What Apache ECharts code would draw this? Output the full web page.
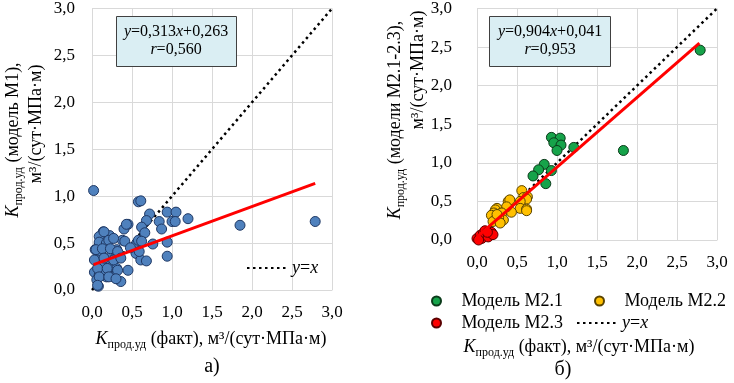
<!DOCTYPE html>
<html><head><meta charset="utf-8">
<script src="https://cdn.jsdelivr.net/npm/echarts@6/dist/echarts.min.js"></script>
<style>html,body{margin:0;padding:0;background:#fff}#c{width:734px;height:383px}</style>
</head><body><div id="c"></div>
<script>
// ---------- data ----------
const tickValues = [0, 0.5, 1.0, 1.5, 2.0, 2.5, 3.0];

// (a) model M1: fact vs model
const m1X = [0.02,0.58,0.61,0.72,0.94,1.05,1.00,1.04,1.20,1.85,2.79,0.84,0.87,0.68,0.62,0.66,0.45,0.40,0.38,0.56,0.58,0.62,0.76,0.94,0.55,0.61,0.68,0.94,0.45,0.36,
  0.14,0.09,0.22,0.04,0.09,0.18,0.31,0.11,0.25,0.06,0.16,0.29,0.03,0.12,0.25,0.31,0.09,0.18,0.27,0.06,0.08,0.14,
  0.43,0.41,0.15,0.21,0.27,0.05,0.13,0.23,0.32,0.03,0.15,0.27,0.36,0.07,0.19,0.32,0.09,0.21,0.30,0.07,0.59,0.48];
const m1Y = [1.06,0.94,0.95,0.81,0.83,0.83,0.73,0.73,0.76,0.69,0.73,0.73,0.65,0.74,0.67,0.61,0.70,0.65,0.53,0.50,0.53,0.52,0.49,0.51,0.39,0.32,0.31,0.36,0.21,0.09,
  0.62,0.57,0.58,0.43,0.51,0.50,0.43,0.39,0.39,0.32,0.30,0.34,0.19,0.25,0.25,0.23,0.16,0.14,0.14,0.11,0.04,0.18,
  0.70,0.52,0.62,0.53,0.55,0.43,0.44,0.44,0.41,0.32,0.34,0.32,0.34,0.23,0.23,0.21,0.14,0.14,0.12,0.05,0.41,0.45];

// (b) models M2.1 - M2.3
const m21X = [2.79,1.83,1.21,0.93,1.04,0.96,1.05,1.00,0.84,0.77,0.70,0.93,0.86];
const m21Y = [2.46,1.16,1.20,1.33,1.32,1.26,1.23,1.16,0.98,0.91,0.83,0.90,0.73];
const m22X = [0.56,0.58,0.63,0.62,0.54,0.39,0.41,0.54,0.62,0.43,0.37,0.25,0.23,0.21,0.18,0.29,0.31,0.33,0.27,0.23,0.20,0.29,0.62,0.25];
const m22Y = [0.64,0.55,0.56,0.53,0.50,0.50,0.52,0.41,0.40,0.36,0.43,0.41,0.39,0.35,0.32,0.34,0.35,0.26,0.29,0.26,0.24,0.22,0.38,0.33];
const m23X = [0.00,0.04,0.08,0.12,0.16,0.18,0.10,0.06,0.02,0.14,0.20,0.13];
const m23Y = [0.02,0.06,0.09,0.07,0.06,0.10,0.12,0.02,0.00,0.04,0.07,0.10];

// regression lines (endpoints) and the y=x line
const fitAX = [0.02, 2.79], fitAY = [0.27, 1.136];
const fitBX = [0.00, 2.78], fitBY = [0.04, 2.55];
const identX = [0, 3], identY = [0, 3];

const fitAText = ['{i|y}=0,313{i|x}+0,263', '{i|r}=0,560'];
const fitBText = ['{i|y}=0,904{i|x}+0,041', '{i|r}=0,953'];

// ---------- helpers ----------
const zip = (xs, ys) => xs.map((x, i) => [x, ys[i]]);
const serif = "'Liberation Serif','Times New Roman',serif";
const fmt = v => v.toFixed(1).replace('.', ',');

function xAx(grid) {
  return {gridIndex: grid, type: 'value', min: 0, max: 3, interval: 0.5,
    axisLine: {show: true, lineStyle: {color: '#D9D9D9'}}, axisTick: {show: false},
    splitLine: {show: true, lineStyle: {color: '#D9D9D9'}},
    axisLabel: {margin: 14, formatter: fmt, color: '#000', fontFamily: serif, fontSize: 17}};
}
function yAx(grid, margin) {
  return {gridIndex: grid, type: 'value', min: 0, max: 3, interval: 0.5,
    axisLine: {show: true, lineStyle: {color: '#D9D9D9'}}, axisTick: {show: false},
    splitLine: {show: true, lineStyle: {color: '#D9D9D9'}},
    axisLabel: {margin: margin, formatter: fmt, color: '#000', fontFamily: serif, fontSize: 17}};
}
function scatter(name, xs, ys, color, border, idx) {
  return {name, type: 'scatter', xAxisIndex: idx, yAxisIndex: idx, data: zip(xs, ys),
    symbolSize: 10, itemStyle: {color, borderColor: border, borderWidth: 1, opacity: 1}, z: 3};
}
function identLine(idx) {
  return {name: 'y=x', type: 'line', xAxisIndex: idx, yAxisIndex: idx, data: zip(identX, identY),
    symbol: 'none', itemStyle: {color: 'rgba(0,0,0,0)', borderWidth: 0},
    lineStyle: {color: '#000', width: 2.5, type: [2.5, 3.5]}, z: 2};
}
function fitLine(name, xs, ys, idx) {
  return {name, type: 'line', xAxisIndex: idx, yAxisIndex: idx, data: zip(xs, ys),
    symbol: 'none', lineStyle: {color: '#FF0000', width: 3}, z: 4};
}
const richBase = {
  k: {fontStyle: 'italic', fontSize: 18, fontFamily: serif, fill: '#000', lineHeight: 24},
  s: {fontSize: 12, fontFamily: serif, fill: '#000', lineHeight: 12, verticalAlign: 'bottom'},
  n: {fontSize: 18, fontFamily: serif, fill: '#000', lineHeight: 24}
};
function rtext(x, y, text, rot) {
  return {type: 'text', x, y, rotation: rot || 0,
    style: {text, rich: richBase, align: 'center', verticalAlign: 'middle', fill: '#000'}};
}
function boxText(x, y, text) {
  return {type: 'text', x, y, style: {text, align: 'center', verticalAlign: 'middle', fill: '#000',
    fontFamily: serif, fontSize: 16,
    rich: {i: {fontStyle: 'italic', fontFamily: serif, fontSize: 16, fill: '#000'}}}};
}
function legendOf(name, left, top, extra) {
  return Object.assign({data: [name], left, top, itemWidth: 40, itemHeight: 9, selectedMode: false,
    textStyle: {fontFamily: serif, fontSize: 18, color: '#000',
      rich: {i: {fontStyle: 'italic', fontFamily: serif, fontSize: 18, color: '#000'}}}}, extra || {});
}
const yxFmt = () => '{i|y}={i|x}';

const chart = echarts.init(document.getElementById('c'));
chart.setOption({
  animation: false,
  backgroundColor: '#fff',
  grid: [
    {left: 92, top: 8, width: 240, height: 282},
    {left: 477, top: 8, width: 240, height: 232}
  ],
  xAxis: [xAx(0), xAx(1)],
  yAxis: [yAx(0, 17), yAx(1, 25)],
  legend: [
    legendOf('y=x', 241, 254, {formatter: yxFmt, itemStyle: {opacity: 0}}),
    legendOf('Модель М2.1', 426, 287),
    legendOf('Модель М2.2', 589, 287),
    legendOf('Модель М2.3', 426, 309),
    legendOf('y=x', 571, 309, {formatter: yxFmt, itemStyle: {opacity: 0}})
  ],
  series: [
    identLine(0),
    scatter('Модель М1', m1X, m1Y, '#4F81BD', '#1F3864', 0),
    fitLine('fitA', fitAX, fitAY, 0),
    identLine(1),
    scatter('Модель М2.1', m21X, m21Y, '#16A34A', '#0B3B1A', 1),
    scatter('Модель М2.2', m22X, m22Y, '#FFC000', '#5A4300', 1),
    scatter('Модель М2.3', m23X, m23Y, '#FF0000', '#5A0000', 1),
    fitLine('fitB', fitBX, fitBY, 1)
  ],
  graphic: [
    {type: 'rect', shape: {x: 116.5, y: 16.5, width: 120, height: 50}, style: {fill: '#DAEEF3', stroke: '#404040', lineWidth: 1}, z: 10},
    Object.assign(boxText(176, 32, fitAText[0]), {z: 11}),
    Object.assign(boxText(176, 50, fitAText[1]), {z: 11}),
    {type: 'rect', shape: {x: 489.5, y: 16.5, width: 121, height: 50}, style: {fill: '#DAEEF3', stroke: '#404040', lineWidth: 1}, z: 10},
    Object.assign(boxText(550, 32, fitBText[0]), {z: 11}),
    Object.assign(boxText(550, 50, fitBText[1]), {z: 11}),
    // axis titles
    rtext(211, 339, '{k|K}{s|прод.уд}{n| (факт), м³/(сут·МПа·м)}'),
    rtext(579, 347, '{k|K}{s|прод.уд}{n| (факт), м³/(сут·МПа·м)}'),
    rtext(13, 140, '{k|K}{s|прод.уд}{n| (модель М1),}', Math.PI / 2),
    rtext(36, 124, '{n|м³/(сут·МПа·м)}', Math.PI / 2),
    rtext(395, 120, '{k|K}{s|прод.уд}{n| (модели М2.1-2.3),}', Math.PI / 2),
    rtext(418, 70, '{n|м³/(сут·МПа·м)}', Math.PI / 2),
    {type: 'text', x: 212, y: 367, style: {text: 'а)', fontFamily: serif, fontSize: 20, fill: '#000', align: 'center', verticalAlign: 'middle'}},
    {type: 'text', x: 563, y: 370, style: {text: 'б)', fontFamily: serif, fontSize: 20, fill: '#000', align: 'center', verticalAlign: 'middle'}}
  ]
});
</script></body></html>
